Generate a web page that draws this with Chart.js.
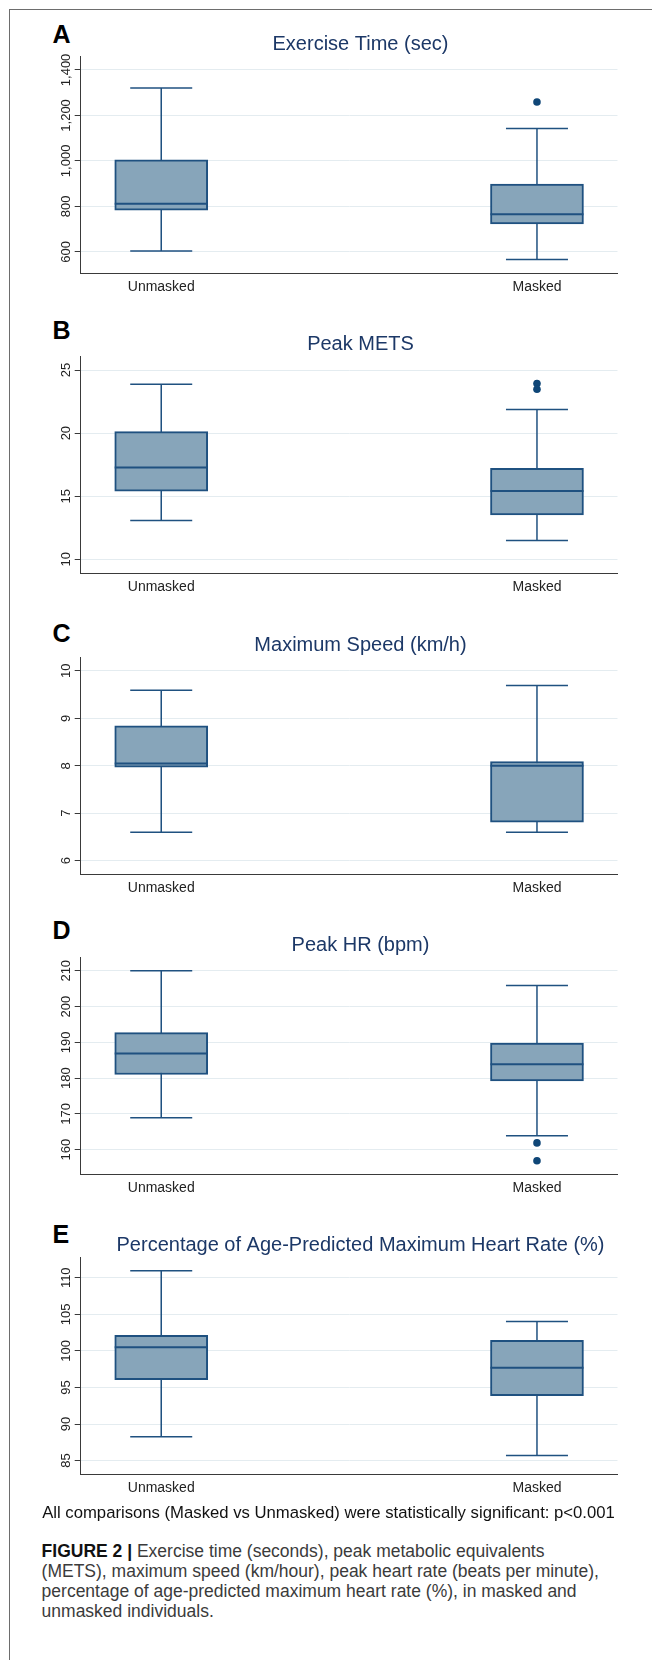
<!DOCTYPE html>
<html>
<head>
<meta charset="utf-8">
<script src="https://cdn.jsdelivr.net/npm/chart.js@4.4.1/dist/chart.umd.min.js"></script>
<style>
  html, body { margin: 0; padding: 0; background: #fff; }
  body {
    width: 652px; height: 1660px; overflow: hidden; position: relative;
    font-family: Arial, "Liberation Sans", Helvetica, sans-serif;
  }
  .frame {
    position: absolute; left: 9px; top: 9px; width: 700px; height: 1700px;
    border-left: 1px solid #6d6d6d; border-top: 1px solid #6d6d6d;
  }
  canvas.panel { position: absolute; left: 0; }
  .letter {
    position: absolute; left: 52.5px; font-weight: bold; font-size: 25px;
    line-height: 25px; color: #000;
  }
  .note {
    position: absolute; left: 0; width: 657px; top: 1503.3px; text-align: center;
    font-size: 16.7px; line-height: 20px; color: #111; white-space: nowrap;
  }
  .caption {
    position: absolute; left: 41.6px; top: 1540.7px; font-size: 17.5px;
    line-height: 20px; color: #3b3b3b; white-space: nowrap;
  }
  .caption b { color: #111; }
</style>
</head>
<body>
<div class="frame"></div>

<div class="letter" style="top:22px">A</div>
<div class="letter" style="top:317.5px">B</div>
<div class="letter" style="top:621px">C</div>
<div class="letter" style="top:918px">D</div>
<div class="letter" style="top:1222px">E</div>

<canvas class="panel" id="chartA" width="721" height="314" style="top:8px"></canvas>
<canvas class="panel" id="chartB" width="721" height="314" style="top:308px"></canvas>
<canvas class="panel" id="chartC" width="721" height="314" style="top:609px"></canvas>
<canvas class="panel" id="chartD" width="721" height="314" style="top:909px"></canvas>
<canvas class="panel" id="chartE" width="721" height="314" style="top:1209px"></canvas>

<div class="note">All comparisons (Masked vs Unmasked) were statistically significant: p&lt;0.001</div>
<div class="caption"><b>FIGURE 2 |</b> Exercise time (seconds), peak metabolic equivalents<br>(METS), maximum speed (km/hour), peak heart rate (beats per minute),<br>percentage of age-predicted maximum heart rate (%), in masked and<br>unmasked individuals.</div>

<script>
const categories = ["Unmasked", "Masked"];

// box stats: [lower whisker, Q1, median, Q3, upper whisker]
const exerciseUnmasked = [604, 783, 812, 1005, 1320];
const exerciseMasked = [567, 723, 765, 898, 1143];
const exerciseOutliers = [1259];          // masked group
const exerciseTicks = [600, 800, 1000, 1200, 1400];
const exerciseRange = [505, 1459];

const metsUnmasked = [13.08, 15.41, 17.27, 20.12, 23.88];
const metsMasked = [11.5, 13.53, 15.41, 17.22, 21.87];
const metsOutliers = [23.93, 23.47];
const metsTicks = [10, 15, 20, 25];
const metsRange = [8.88, 26.07];

const speedUnmasked = [6.6, 7.97, 8.05, 8.84, 9.59];
const speedMasked = [6.6, 6.81, 8.0, 8.09, 9.69];
const speedOutliers = [];
const speedTicks = [6, 7, 8, 9, 10];
const speedRange = [5.71, 10.28];

const hrUnmasked = [168.9, 181.0, 186.9, 192.7, 210];
const hrMasked = [163.9, 179.2, 183.9, 189.8, 205.9];
const hrOutliers = [161.9, 156.9];
const hrTicks = [160, 170, 180, 190, 200, 210];
const hrRange = [153.07, 213.7];

const pctUnmasked = [88.26, 96.05, 100.49, 102.12, 110.97];
const pctMasked = [85.7, 93.89, 97.68, 101.46, 104.01];
const pctOutliers = [];
const pctTicks = [85, 90, 95, 100, 105, 110];
const pctRange = [83.1, 112.77];

const LINE = "#1f5180";
const FILL = "#87a5ba";
const DOT = "#0f4677";
const FONT = 'Arial, "Liberation Sans", Helvetica, sans-serif';

Chart.defaults.font.family = FONT;

// rotated y tick labels, placed from the scale's own ticks
const yTickLabels = {
    id: "yTickLabels",
    afterDraw(chart) {
        const s = chart.scales.y;
        const ctx = chart.ctx;
        ctx.save();
        ctx.font = "13px " + FONT;
        ctx.fillStyle = "#222";
        ctx.textAlign = "center";
        ctx.textBaseline = "middle";
        s.ticks.forEach((t, i) => {
            ctx.save();
            ctx.translate(s.right - 15, s.getPixelForTick(i));
            ctx.rotate(-Math.PI / 2);
            ctx.fillText(t.value.toLocaleString("en-US"), 0, 1);
            ctx.restore();
        });
        ctx.restore();
    }
};

function makePanel(id, title, unmasked, masked, outliers, ticks, range) {
    const groups = [unmasked, masked];
    const whiskers = [];
    groups.forEach((g, i) => {
        if (i > 0) whiskers.push({ x: i - 0.5, y: null });
        whiskers.push({ x: i, y: g[0] }, { x: i, y: g[4] });
    });

    return new Chart(document.getElementById(id), {
        type: "scatter",
        data: {
            datasets: [
                {
                    label: "median",
                    order: 0,
                    data: groups.map((g, i) => ({ x: i, y: g[2] })),
                    pointStyle: "line",
                    pointRadius: 46.5,
                    borderColor: LINE,
                    backgroundColor: LINE,
                    pointBorderWidth: 2
                },
                {
                    label: "caps",
                    order: 1,
                    data: groups.flatMap((g, i) => [{ x: i, y: g[0] }, { x: i, y: g[4] }]),
                    pointStyle: "line",
                    pointRadius: 31,
                    borderColor: LINE,
                    backgroundColor: LINE,
                    pointBorderWidth: 1.5
                },
                {
                    label: "outliers",
                    order: 1,
                    data: outliers.map(v => ({ x: 1, y: v })),
                    pointStyle: "circle",
                    pointRadius: 3.8,
                    backgroundColor: DOT,
                    borderColor: DOT,
                    pointBorderWidth: 0
                },
                {
                    type: "bar",
                    label: "box",
                    order: 2,
                    data: groups.map((g, i) => ({ x: i, y: [g[1], g[3]] })),
                    backgroundColor: FILL,
                    borderColor: LINE,
                    borderWidth: 2,
                    borderSkipped: false,
                    barThickness: 93
                },
                {
                    label: "whiskers",
                    order: 3,
                    data: whiskers,
                    showLine: true,
                    spanGaps: false,
                    borderColor: LINE,
                    borderWidth: 1.5,
                    pointRadius: 0
                }
            ]
        },
        options: {
            responsive: false,
            animation: false,
            events: [],
            layout: { padding: 0 },
            plugins: {
                legend: { display: false },
                tooltip: { enabled: false },
                title: {
                    display: true,
                    text: title,
                    color: "#1c3867",
                    font: { size: 20, weight: "normal" },
                    padding: { top: 15.5, bottom: 0.5 }
                }
            },
            scales: {
                x: {
                    type: "linear",
                    min: -0.2143,
                    max: 1.2143,
                    offset: false,
                    grid: { display: false, drawTicks: false, tickLength: 0, offset: false },
                    border: { display: true, color: "#3a3a3a", width: 1 },
                    afterBuildTicks: s => { s.ticks = categories.map((c, i) => ({ value: i })); },
                    ticks: {
                        autoSkip: false,
                        maxRotation: 0,
                        padding: 5,
                        color: "#222",
                        font: { size: 14 },
                        callback: v => categories[v]
                    },
                    afterFit: s => { s.height = 30; }
                },
                y: {
                    type: "linear",
                    position: "left",
                    min: range[0],
                    max: range[1],
                    afterBuildTicks: s => { s.ticks = ticks.map(v => ({ value: v })); },
                    ticks: { display: false },
                    grid: { color: "#e4ecf0", lineWidth: 1, tickColor: "#3a3a3a", tickLength: 6 },
                    border: { display: true, color: "#3a3a3a", width: 1 },
                    afterFit: s => { s.width = 80.7; }
                },
                yr: {
                    position: "right",
                    display: true,
                    ticks: { display: false },
                    grid: { display: false, drawTicks: false },
                    border: { display: false },
                    afterFit: s => { s.width = 103.5; }
                }
            }
        },
        plugins: [yTickLabels]
    });
}

makePanel("chartA", "Exercise Time (sec)", exerciseUnmasked, exerciseMasked, exerciseOutliers, exerciseTicks, exerciseRange);
makePanel("chartB", "Peak METS", metsUnmasked, metsMasked, metsOutliers, metsTicks, metsRange);
makePanel("chartC", "Maximum Speed (km/h)", speedUnmasked, speedMasked, speedOutliers, speedTicks, speedRange);
makePanel("chartD", "Peak HR (bpm)", hrUnmasked, hrMasked, hrOutliers, hrTicks, hrRange);
makePanel("chartE", "Percentage of Age-Predicted Maximum Heart Rate (%)", pctUnmasked, pctMasked, pctOutliers, pctTicks, pctRange);
</script>
</body>
</html>
